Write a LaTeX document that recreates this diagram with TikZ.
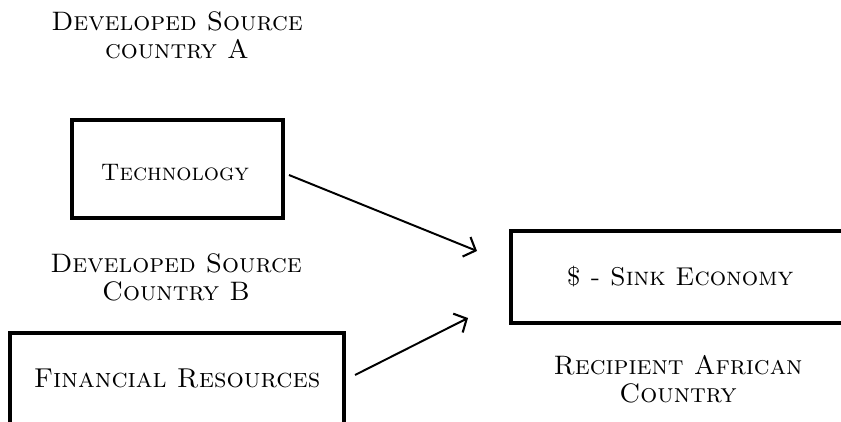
\documentclass[tikz,border=0pt]{standalone}
\usetikzlibrary{arrows.meta}

\begin{document}
\begin{tikzpicture}[
  box/.style={draw=black, line width=3pt, inner sep=0pt},
  caption/.style={align=center, font=\fontsize{19}{19.8}\selectfont\scshape},
  flow/.style={line width=1.4pt, -{Straight Barb[length=7pt, width=15pt, line width=1.5pt]}}]
\useasboundingbox (0,0) rectangle (21.025,10.525);
\node[caption] (capA) at (4.425, 9.65) {Developed Source\\country A};
\node[box, minimum width=5.275cm, minimum height=2.45cm] (tech) at (4.4375, 6.3) {};
\node[font=\fontsize{17}{20}\selectfont\scshape] (techtxt) at (4.375, 6.2) {Technology};
\node[caption] (capB) at (4.4, 3.6) {Developed Source\\Country B};
\node[box, minimum width=8.35cm, minimum height=2.3cm] (fin) at (4.425, 1.05) {};
\node[font=\fontsize{19.4}{22}\selectfont\scshape] (fintxt) at (4.425, 1.075) {Financial Resources};
\node[box, minimum width=8.35cm, minimum height=2.3cm] (sink) at (16.95, 3.6) {};
\node[font=\fontsize{18.3}{22}\selectfont\scshape] (sinktxt) at (17.0, 3.6) {\$ - Sink Economy};
\node[caption] (capR) at (16.95, 1.05) {Recipient African\\Country};
\coordinate (tip1) at (11.925, 4.25);
\coordinate (tip2) at (11.7, 2.575);
\coordinate (tail1) at (7.225, 6.15);
\coordinate (tail2) at (8.875, 1.15);
\draw[flow] (tail1) -- (tip1);
\draw[flow] (tail2) -- (tip2);
\end{tikzpicture}
\end{document}
